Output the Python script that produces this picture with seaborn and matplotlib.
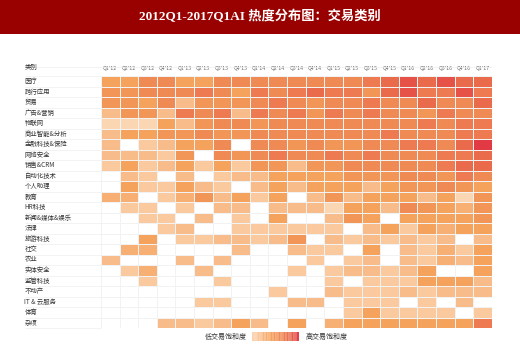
import numpy as np
import pandas as pd
import seaborn as sns
import matplotlib.pyplot as plt
from matplotlib.colors import LinearSegmentedColormap
from matplotlib.patches import Rectangle

quarters = ["Q1'12", "Q2'12", "Q3'12", "Q4'12", "Q1'13", "Q2'13", "Q3'13",
            "Q4'13", "Q1'14", "Q2'14", "Q3'14", "Q4'14", "Q1'15", "Q2'15",
            "Q3'15", "Q4'15", "Q1'16", "Q2'16", "Q3'16", "Q4'16", "Q1'17"]

categories = ['医疗', '跨行应用', '贸易', '广告&营销', '物联网', '商业智能&分析',
              '金融科技&保险', '网络安全', '销售&CRM', '自动化技术', '个人助理', '教育',
              'HR科技', '新闻&媒体&娱乐', '法律', '旅游科技', '社交', '农业',
              '实体安全', '监管科技', '不动产', 'IT & 云服务', '体育', '杂项']

# deal saturation per category and quarter (0 = no deals)
heat = [
    [3, 3, 4, 4, 3, 3, 4, 4, 4, 4, 4, 4, 4, 4, 4.5, 5, 5.5, 5, 5.5, 5, 5],
    [3.5, 3.5, 4, 4, 4, 4.5, 4, 3, 4.5, 4, 4.5, 5, 4.5, 4.5, 3.5, 5, 5.5, 4.5, 4.5, 5.5, 4.5],
    [3.5, 3.5, 3, 4, 2, 3.5, 3.5, 3.5, 4, 4.5, 4, 3.5, 4, 4, 4.5, 4, 4, 5, 4, 4, 5],
    [2, 3.5, 3.5, 2, 4.5, 4, 4.5, 2, 4.5, 4, 4.5, 3.5, 4.5, 4, 4.5, 4, 4, 3.5, 4.5, 4, 4],
    [1, 1, 1, 3, 2, 3.5, 4, 4, 3.5, 4, 4, 4, 4, 4, 4, 4, 4, 4.5, 4, 4.5, 4.5],
    [2, 3, 3, 3.5, 3.5, 4, 3.5, 3.5, 4, 4, 4, 4, 4, 4, 4, 4.5, 4, 4, 4, 4.5, 4.5],
    [2, 0, 1.5, 2, 3, 3, 4, 0, 4, 4, 3.5, 4, 3.5, 3.5, 4, 4, 4.5, 4.5, 4, 5, 6],
    [2, 2, 2, 1.5, 3.5, 0, 4, 3.5, 4, 4.5, 4, 4, 4.5, 4, 4.5, 4, 4, 4, 4.5, 4.5, 5],
    [1.5, 3, 1.5, 2, 3, 1.5, 3, 1.5, 3.5, 3.5, 2, 3.5, 3.5, 4, 4, 4, 4, 4, 4.5, 5, 5],
    [0, 2, 1.5, 0, 2, 0, 1.5, 2, 2, 3, 3, 3, 3, 3.5, 3.5, 3.5, 4, 4, 3.5, 4.5, 4],
    [0, 3, 1.5, 1.5, 3, 2, 1.5, 0, 2, 3, 2, 3, 3, 3, 2, 3, 3.5, 3.5, 4, 3.5, 3],
    [2.5, 2.5, 0, 1.5, 2.5, 3.5, 2, 3, 1.5, 3, 0, 2, 3.5, 2, 3, 3, 3, 2, 3, 1, 3.5],
    [0, 1.5, 1.5, 0, 1.5, 0, 2, 2, 0, 2, 2, 2, 1, 3, 3, 2, 4, 3.5, 3, 2.5, 3.5],
    [0, 0, 1.5, 1.5, 0, 2, 0, 1.5, 0, 3, 0, 0, 2, 3.5, 3, 0, 3, 3, 3, 3, 3.5],
    [0, 0, 0, 1.5, 2, 0, 0, 1.5, 1.5, 1.5, 1.5, 1.5, 1.5, 0, 2, 3, 1.5, 3, 2.5, 3, 3],
    [0, 0, 3, 0, 1.5, 1.5, 2, 2, 1.5, 2, 3.5, 0, 2, 1.5, 2, 1.5, 2, 1.5, 2, 0, 2],
    [0, 2.5, 2.5, 0, 0, 0, 0, 2, 0, 0, 2, 1.5, 1.5, 0, 3, 0, 2, 1.5, 2.5, 1.5, 3],
    [2, 0, 0, 0, 2, 0, 2, 0, 0, 0, 0, 1.5, 0, 1.5, 2, 0, 2, 1.5, 2.5, 2, 3],
    [0, 1.5, 2.5, 0, 0, 2, 0, 0, 0, 0, 1.5, 0, 1.5, 2, 2, 1.5, 2, 3, 0, 0, 3],
    [0, 0, 1.5, 0, 0, 0, 1.5, 0, 0, 0, 0, 0, 1.5, 0, 1.5, 1.5, 1.5, 3, 3, 3, 2],
    [0, 0, 0, 0, 0, 0, 0, 0, 0, 1.5, 0, 0, 2, 1.5, 1.5, 1.5, 2, 1.5, 2, 2, 2],
    [0, 0, 0, 0, 0, 1.5, 1.5, 0, 0, 0, 2, 2, 0, 1.5, 1.5, 1.5, 0, 1.5, 0, 2, 0],
    [0, 0, 0, 0, 0, 0, 0, 0, 0, 0, 0, 0, 0, 1.5, 3, 1.5, 1.5, 1.5, 1.5, 0, 1.5],
    [0, 0, 0, 2, 2, 1.5, 2, 3, 2, 0, 3, 0, 2.5, 3, 3, 3, 3, 3, 3, 3, 4.5],
]

sns.set_theme(style='white')
plt.rcParams['font.family'] = ['Noto Sans CJK SC', 'DejaVu Sans']

df = pd.DataFrame(heat, index=categories, columns=quarters)

cmap = LinearSegmentedColormap.from_list(
    'deals', ['#fbd6b2', '#f8bc8a', '#f5a25c', '#f08a55', '#ea6a4c', '#e23a44'])
cmap.set_under('white')

fig = plt.figure(figsize=(5.2, 3.52), dpi=100)
fig.patches.append(Rectangle((0, 0.903), 1, 0.097, transform=fig.transFigure,
                             facecolor='#990000', edgecolor='none', zorder=0))
fig.text(0.5, 0.952, '2012Q1-2017Q1AI 热度分布图：交易类别', ha='center', va='center',
         color='white', fontsize=9.5, fontweight='bold',
         family=['Liberation Serif', 'Noto Sans CJK SC'])

ax = fig.add_axes([0.194, 0.068, 0.752, 0.716])
sns.heatmap(df, ax=ax, cmap=cmap, vmin=1, vmax=6, linewidths=0.5,
            linecolor='#f2f2f2', cbar=False, xticklabels=True, yticklabels=True)

ax.xaxis.tick_top()
ax.set_xticklabels(quarters, rotation=0, fontsize=3.8, color='#666666')
ax.set_yticklabels(categories, rotation=0, fontsize=4.6, color='#333333', ha='left')
ax.tick_params(axis='x', length=0, pad=4)
ax.tick_params(axis='y', length=0, pad=55)
ax.set_xlabel('')
ax.set_ylabel('')

# faint separators under the row labels
ax.hlines(np.arange(len(categories) + 1), -4.1, 0, colors='#eeeeee', lw=0.5, clip_on=False)
ax.hlines(-0.9, -4.1, len(quarters), colors='#eeeeee', lw=0.5, clip_on=False)

fig.text(25 / 520, 1 - 67 / 352, '类别', fontsize=4.6, color='#333333', va='center')

cax = fig.add_axes([252 / 520, 1 - 341 / 352, 47 / 520, 9 / 352])
cb = fig.colorbar(ax.collections[0], cax=cax, orientation='horizontal',
                  boundaries=np.linspace(1, 6, 19), drawedges=True)
cb.outline.set_visible(False)
cb.dividers.set_color('white')
cb.dividers.set_linewidth(0.3)
cax.set_xticks([])
fig.text(226 / 520, 1 - 337 / 352, '低交易饱和度', fontsize=5, color='#333333',
         ha='center', va='center')
fig.text(327 / 520, 1 - 337 / 352, '高交易饱和度', fontsize=5, color='#333333',
         ha='center', va='center')

fig.savefig('out.png', dpi=100)
